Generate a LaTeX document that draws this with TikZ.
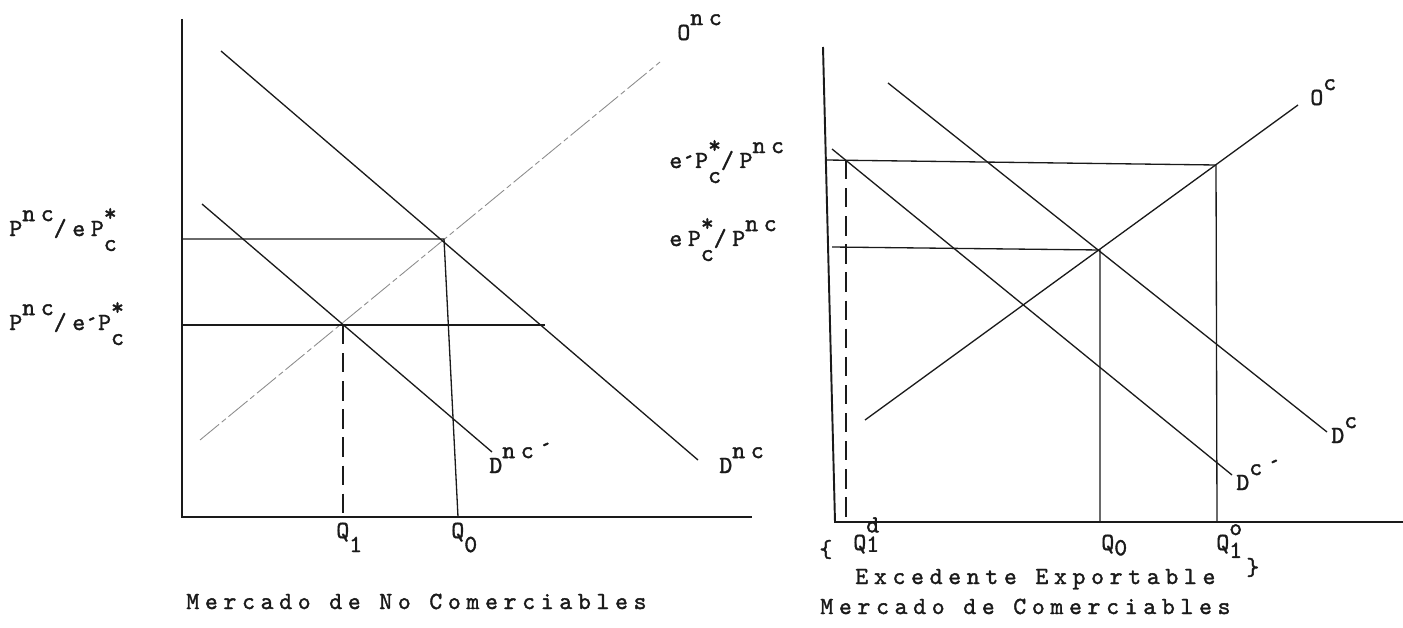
\documentclass[tikz,border=0pt]{standalone}
\usepackage{fontspec}
\usepackage{tikz}
\usetikzlibrary{positioning}
\newfontfamily\typewr{lmmono10-regular.otf}[LetterSpace=23, FakeBold=1.5]
\definecolor{ink}{HTML}{1A1A1A}
\definecolor{faint}{HTML}{8C8C8C}
\newcommand{\up}[1]{\raisebox{8.5pt}{#1}}
\newcommand{\updn}[3][8.5pt]{\rlap{\raisebox{8.5pt}{#2}}\raisebox{-#1}{#3}}
\newcommand{\prm}{\raisebox{-1.5pt}{´}}

\begin{document}
\begin{tikzpicture}[
  x=0.02cm, y=-0.02cm,
  font=\typewr\fontsize{14}{16}\selectfont,
  axis/.style={draw=ink, line width=1.1pt},
  curve/.style={draw=ink, line width=0.75pt},
  guide/.style={draw=ink, line width=0.7pt, dash pattern=on 11pt off 5pt},
  offer/.style={draw=faint, line width=0.5pt, dash pattern=on 14pt off 2pt on 3pt off 2pt},
  lbl/.style={anchor=base west, inner sep=0pt, text=ink}
]
  \useasboundingbox (0,0) rectangle (1403,628);

  \coordinate (ltop)  at (182,19);
  \coordinate (lo)    at (182,517);
  \coordinate (lend)  at (752,517);
  \coordinate (dnA)   at (221,51);
  \coordinate (dnB)   at (698,460);
  \coordinate (dnpA)  at (202,204);
  \coordinate (dnpB)  at (492,452);
  \coordinate (onA)   at (200,440);
  \coordinate (onB)   at (660,62);
  \coordinate (e0)    at (444,239);
  \coordinate (e1)    at (343,325);
  \coordinate (p0)    at (182,239);
  \coordinate (p1)    at (182,325);
  \coordinate (p1end) at (545,325);
  \coordinate (q0)    at (458,517);
  \coordinate (q1)    at (343,517);

  \draw[axis] (ltop) -- (lo) -- (lend);
  \draw[offer] (onA) -- (onB);
  \draw[curve] (dnA) -- (dnB);
  \draw[curve] (dnpA) -- (dnpB);
  \draw[curve] (p0) -- (e0) -- (q0);
  \draw[curve] (p1) -- (p1end);
  \draw[guide] (e1) -- (q1);

  \node[lbl] (onc)  at (677,40)  {O\up{nc}};
  \node[lbl] (dnc)  at (719,473) {D\up{nc}};
  \node[lbl] (dncp) at (489,473) {D\up{nc´}};
  \node[lbl] (pe0)  at (9,236)   {P\up{nc}/eP\updn{*}{c}};
  \node[lbl] (pe1)  at (9,330)   {P\up{nc}/e\prm P\updn{*}{c}};
  \node[lbl] (lq1)  at (336,538) {Q\raisebox{-8pt}{1}};
  \node[lbl] (lq0)  at (451,538) {Q\raisebox{-8pt}{0}};
  \node[lbl] (capl) at (186,609) {Mercado de No Comerciables};

  \coordinate (rtop) at (823,47);
  \coordinate (ro)   at (835,522);
  \coordinate (rend) at (1403,522);
  \coordinate (dcA)  at (888,83);
  \coordinate (dcB)  at (1327,432);
  \coordinate (dcpA) at (832,149);
  \coordinate (dcpB) at (1232,475);
  \coordinate (ocA)  at (865,420);
  \coordinate (ocB)  at (1298,105);
  \coordinate (f0)   at (1100,250);
  \coordinate (f1)   at (1216,165);
  \coordinate (r0)   at (832,247);
  \coordinate (r1)   at (826,160);
  \coordinate (g1)   at (846,160);
  \coordinate (s0)   at (1100,522);
  \coordinate (s1)   at (1217,522);
  \coordinate (sg)   at (846,522);

  \draw[axis] (rtop) -- (ro) -- (rend);
  \draw[curve] (dcA) -- (dcB);
  \draw[curve] (dcpA) -- (dcpB);
  \draw[curve] (ocA) -- (ocB);
  \draw[curve] (r1) -- (f1) -- (s1);
  \draw[curve] (r0) -- (f0) -- (s0);
  \draw[guide] (g1) -- (sg);

  \node[lbl] (oc)   at (1310,105) {O\up{c}};
  \node[lbl] (dc)   at (1331,443) {D\up{c}};
  \node[lbl] (dcp)  at (1236,490) {D\up{c´}};
  \node[lbl] (pr1)  at (669,168)  {e\prm P\updn{*}{c}/P\up{nc}};
  \node[lbl] (pr0)  at (669,246)  {eP\updn{*}{c}/P\up{nc}};
  \node[lbl] (lbr)  at (819,557)  {\{};
  \node[lbl] (rq1d) at (853,550)  {Q\rlap{\raisebox{10pt}{d}}\raisebox{-1pt}{1}};
  \node[lbl] (rq0)  at (1101,550) {Q\raisebox{-3pt}{0}};
  \node[lbl] (rq1o) at (1216,550) {Q\updn[4.5pt]{o}{1}};
  \node[lbl] (rbr)  at (1246,575) {\}};
  \node[lbl] (exc)  at (855,584)  {Excedente Exportable};
  \node[lbl] (capr) at (820,614)  {Mercado de Comerciables};
\end{tikzpicture}
\end{document}
